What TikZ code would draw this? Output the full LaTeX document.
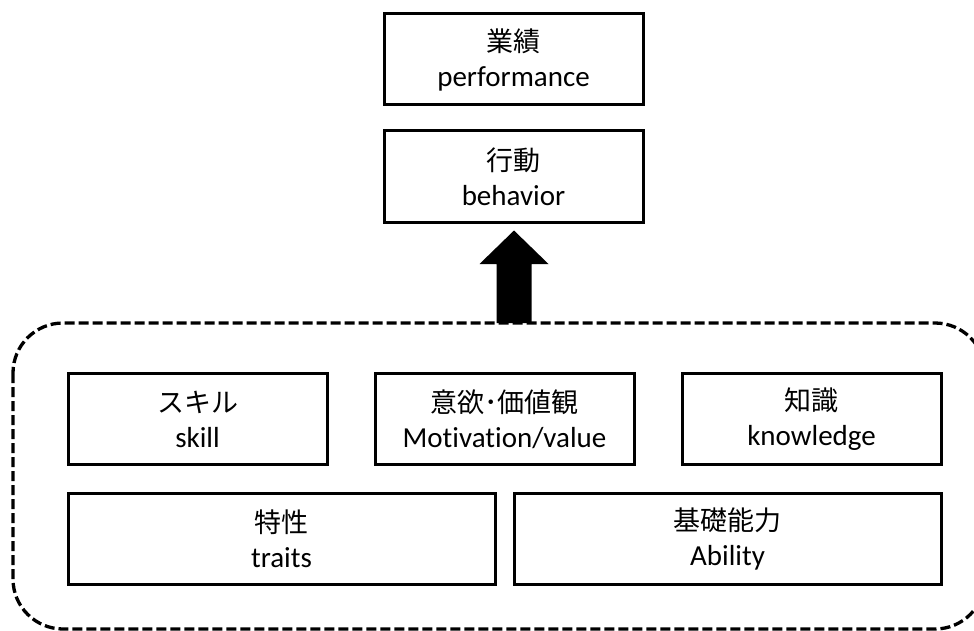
\documentclass[tikz,border=0pt]{standalone}
\usepackage{fontspec}
\setmainfont{Carlito}[RawFeature=-liga]
\newfontfamily\jp{Noto Sans CJK JP}
\usetikzlibrary{calc}
\begin{document}
\begin{tikzpicture}[x=1pt,y=-1pt,
  box/.style={draw=black,line width=3pt,inner sep=0pt,align=center,
    font=\fontsize{29}{35}\selectfont,minimum height=91pt},
  narrowbox/.style={box,minimum width=259pt},
  widebox/.style={box,minimum width=427pt},
  groupframe/.style={draw=black,line width=3.3pt,dash pattern=on 10pt off 4pt,
    rounded corners=50pt},
  blockarrow/.style={fill=black}]
\newcommand\jptext[1]{{\jp\fontsize{27}{35}\selectfont #1}}
\useasboundingbox (0,0) rectangle (974,631);

% upper chain
\node[narrowbox] (perf)  at (513.5,59.5)  {\jptext{業績}\\performance};
\node[narrowbox] (behav) at (513.5,176.5) {\jptext{行動}\\behavior};

% dashed group of underlying factors
\draw[groupframe] (13,323) rectangle (985,629);
\coordinate (group top) at (514,323);

\node[narrowbox] (skill) at (197.5,419) {\jptext{スキル}\\skill};
\node[narrowbox] (motiv) at (504.5,419) {\jptext{意欲･価値観}\\Motivation/value};
\node[narrowbox] (know)  at (811.5,419) {\jptext{知識}\\knowledge};
\node[widebox] (traits)  at (281.5,538.5) {\jptext{特性}\\traits};
\node[widebox] (ability) at (727.5,538.5) {\jptext{基礎能力}\\Ability};

% block arrow from the group up to behaviour
\coordinate (arrow tip) at ($(behav.south)+(0.5,7)$);
\fill[blockarrow]
  ($(group top)+(-17.5,0)$) --
  ($(group top)+(-17.5,-59)$) --
  ($(group top)+(-34.5,-59)$) --
  (arrow tip) --
  ($(group top)+(34.5,-59)$) --
  ($(group top)+(17.5,-59)$) --
  ($(group top)+(17.5,0)$) -- cycle;
\end{tikzpicture}
\end{document}
